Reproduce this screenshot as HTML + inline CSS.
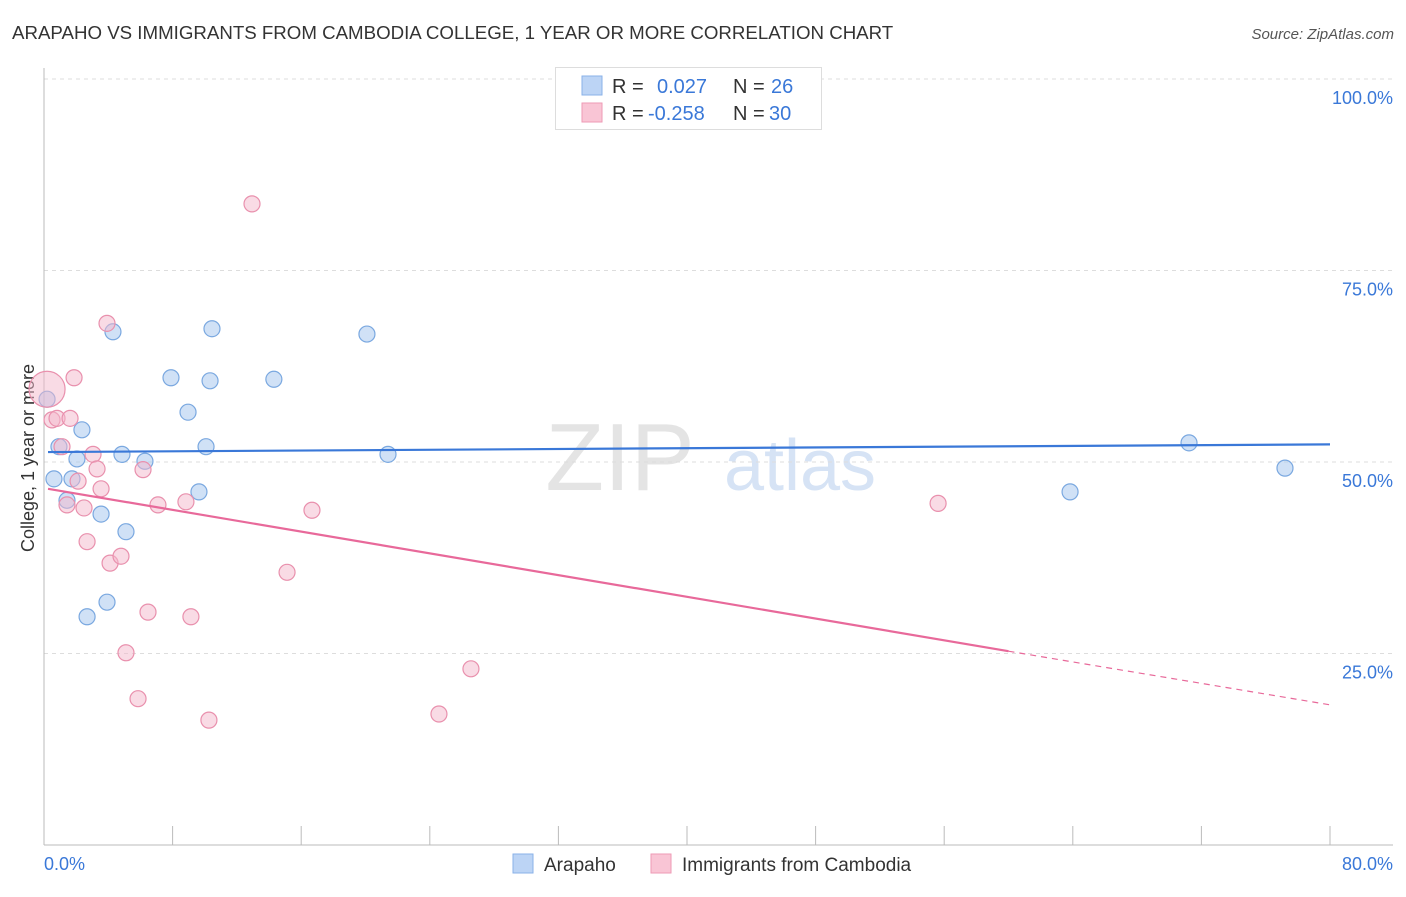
<!DOCTYPE html>
<html><head><meta charset="utf-8"><style>
body{margin:0;background:#fff;font-family:"Liberation Sans",sans-serif;}
svg text{font-family:"Liberation Sans",sans-serif;}
</style></head><body>
<svg id="c" width="1406" height="892" xmlns="http://www.w3.org/2000/svg">
<text x="12" y="39" font-size="18.7" fill="#333">ARAPAHO VS IMMIGRANTS FROM CAMBODIA COLLEGE, 1 YEAR OR MORE CORRELATION CHART</text>
<text x="1394" y="39" font-size="15" fill="#555" text-anchor="end" font-style="italic">Source: ZipAtlas.com</text>
<text x="620" y="490" font-size="96" fill="#e4e4e4" font-family="Liberation Serif" text-anchor="middle">ZIP</text>
<text x="800" y="490" font-size="72" fill="#d6e3f5" text-anchor="middle">atlas</text>
<text transform="translate(34,458) rotate(-90)" font-size="18" fill="#333" text-anchor="middle">College, 1 year or more</text>
<g id="grid"></g><g id="marks"></g>
<g>
<rect x="555.5" y="67.5" width="266" height="62" fill="#fff" stroke="#ddd"/>
<rect x="582" y="76" width="20" height="19" fill="#bcd4f5" stroke="#8ab2e8"/>
<rect x="582" y="103" width="20" height="19" fill="#f9c5d5" stroke="#ee9ab5"/>
<text x="612" y="93" font-size="20" fill="#333">R =</text><text x="657" y="93" font-size="20" fill="#3a78d8">0.027</text>
<text x="733" y="93" font-size="20" fill="#333">N =</text><text x="771" y="93" font-size="20" fill="#3a78d8">26</text>
<text x="612" y="120" font-size="20" fill="#333">R =</text><text x="648" y="120" font-size="20" fill="#3a78d8">-0.258</text>
<text x="733" y="120" font-size="20" fill="#333">N =</text><text x="769" y="120" font-size="20" fill="#3a78d8">30</text>
</g>
<g>
<rect x="513" y="854" width="20" height="19" fill="#bcd4f5" stroke="#8ab2e8"/>
<text x="544" y="871" font-size="19" fill="#333">Arapaho</text>
<rect x="651" y="854" width="20" height="19" fill="#f9c5d5" stroke="#ee9ab5"/>
<text x="682" y="871" font-size="19" fill="#333">Immigrants from Cambodia</text>
</g>
</svg>
<script>
const blueX=[0.19,0.62,0.93,1.43,1.74,2.05,2.36,2.68,3.55,3.92,4.29,4.85,5.10,6.28,7.90,8.96,9.64,10.08,10.33,10.45,14.30,20.09,21.40,63.83,71.23,77.20];
const blueY=[58.2,47.8,52.0,45.0,47.8,50.4,54.2,29.8,43.2,31.7,67.0,51.0,40.9,50.1,61.0,56.5,46.1,52.0,60.6,67.4,60.8,66.7,51.0,46.1,52.5,49.2];
const pinkX=[0.19,0.50,0.81,1.12,1.43,1.87,1.62,2.12,2.49,2.68,3.05,3.30,3.55,3.92,4.11,4.79,5.10,5.85,6.16,6.47,7.09,8.83,9.14,10.26,12.94,15.12,16.67,24.57,26.56,55.62];
const pinkY=[59.5,55.5,55.7,52.0,44.4,61.0,55.7,47.5,44.0,39.6,51.0,49.1,46.5,68.1,36.8,37.7,25.1,19.1,49.0,30.4,44.4,44.8,29.8,16.3,83.7,35.6,43.7,17.1,23.0,44.6];
const yTicks=[25,50,75,100];
const yTickLabels=["25.0%","50.0%","75.0%","100.0%"];
const blueTrend=[0.25,51.3,80,52.3];
const pinkTrend=[0.25,46.5,60,25.3,80,18.3];
const NS="http://www.w3.org/2000/svg";
const sx=v=>44+v*1286/80, sy=v=>845-v*7.66;
function mk(tag,attrs,parent){const e=document.createElementNS(NS,tag);for(const k in attrs)e.setAttribute(k,attrs[k]);parent.appendChild(e);return e;}
const grid=document.getElementById('grid'),marks=document.getElementById('marks');
yTicks.forEach((t,i)=>{
 const l=mk('line',{x1:44,x2:1393,y1:sy(t),y2:sy(t),stroke:'#ddd','stroke-dasharray':'4,4'},grid);
 
 
 const tx=mk('text',{x:1393,y:sy(t)+25,'font-size':18,fill:'#3a78d8','text-anchor':'end'},grid);tx.textContent=yTickLabels[i];
 
 
});
mk('line',{x1:44,x2:44,y1:68,y2:845,stroke:'#bbb'},grid);
mk('line',{x1:44,x2:1393,y1:845,y2:845,stroke:'#bbb'},grid);
for(let i=0;i<=10;i++){const t=mk('line',{x1:sx(i*8),x2:sx(i*8),y1:826,y2:845,stroke:'#bbb'},grid);
 
 }
let a=mk('text',{x:44,y:870,'font-size':18,fill:'#3a78d8'},grid);a.textContent='0.0%';


a=mk('text',{x:1393,y:870,'font-size':18,fill:'#3a78d8','text-anchor':'end'},grid);a.textContent='80.0%';


blueX.forEach((x,i)=>{const c=mk('circle',{cx:sx(x),cy:sy(blueY[i]),r:8,fill:'rgba(169,200,239,0.55)',stroke:'#7aa8e0','stroke-width':1.2},marks);
 
 });
pinkX.forEach((x,i)=>{const c=mk('circle',{cx:sx(x),cy:sy(pinkY[i]),r:i===0?18:8,fill:'rgba(244,184,203,0.5)',stroke:'#e990ad','stroke-width':1.2},marks);
 
 });
let l=mk('line',{x1:sx(blueTrend[0]),y1:sy(blueTrend[1]),x2:sx(blueTrend[2]),y2:sy(blueTrend[3]),stroke:'#3a78d8','stroke-width':2.2},marks);


l=mk('line',{x1:sx(pinkTrend[0]),y1:sy(pinkTrend[1]),x2:sx(pinkTrend[2]),y2:sy(pinkTrend[3]),stroke:'#e8699a','stroke-width':2.2},marks);


l=mk('line',{x1:sx(pinkTrend[2]),y1:sy(pinkTrend[3]),x2:sx(pinkTrend[4]),y2:sy(pinkTrend[5]),stroke:'#e8699a','stroke-width':1.2,'stroke-dasharray':'6,5'},marks);


</script>
</body></html>
